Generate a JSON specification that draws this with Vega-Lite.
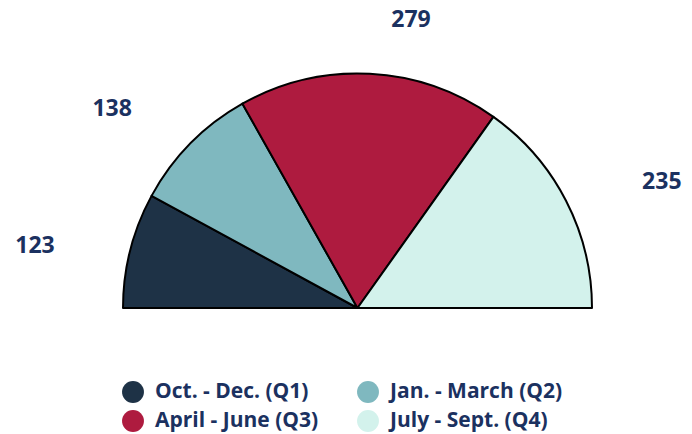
{
  "$schema": "https://vega.github.io/schema/vega-lite/v6.json",
  "width": 692,
  "height": 434,
  "autosize": "none",
  "padding": 0,
  "background": "white",
  "config": {"view": {"stroke": null}},
  "data": {
    "values": [
      {"quarter": "Oct. - Dec. (Q1)", "value": 123, "idx": 1},
      {"quarter": "Jan. - March (Q2)", "value": 138, "idx": 2},
      {"quarter": "April - June (Q3)", "value": 279, "idx": 3},
      {"quarter": "July - Sept. (Q4)", "value": 235, "idx": 4}
    ]
  },
  "encoding": {
    "theta": {"field": "value", "type": "quantitative", "stack": true, "scale": {"range": [-1.5707963, 1.5707963]}},
    "order": {"field": "idx", "type": "quantitative"}
  },
  "layer": [
    {
      "mark": {"type": "arc", "x": 357.5, "y": 308, "outerRadius": 234.5, "stroke": "black", "strokeWidth": 2, "strokeJoin": "round"},
      "encoding": {
        "color": {
          "field": "quarter",
          "type": "nominal",
          "sort": ["Oct. - Dec. (Q1)", "Jan. - March (Q2)", "April - June (Q3)", "July - Sept. (Q4)"],
          "scale": {"domain": ["Oct. - Dec. (Q1)", "Jan. - March (Q2)", "April - June (Q3)", "July - Sept. (Q4)"], "range": ["#1e3246", "#7fb8bf", "#ae1b3f", "#d3f2ec"]},
          "legend": {
            "title": null,
            "orient": "none",
            "legendX": 122,
            "legendY": 381,
            "direction": "horizontal",
            "columns": 2,
            "columnPadding": 38,
            "rowPadding": 7,
            "symbolType": "circle",
            "symbolSize": 480,
            "symbolStrokeWidth": 0,
            "labelFont": "Open Sans",
            "labelFontSize": 21,
            "labelFontWeight": "bold",
            "labelColor": "#1b3160",
            "labelOffset": 11,
            "labelLimit": 300
          }
        }
      }
    },
    {
      "mark": {"type": "text", "x": 357.5, "y": 320, "radius": 300, "dx": -12, "font": "Open Sans", "fontSize": 23, "fontWeight": "bold", "fill": "#1b3160", "align": "right", "baseline": "middle"},
      "encoding": {
        "text": {"condition": {"test": "datum.idx <= 2", "field": "value", "type": "quantitative"}, "value": ""}
      }
    },
    {
      "mark": {"type": "text", "x": 357.5, "y": 320, "radius": 300, "dx": 18, "font": "Open Sans", "fontSize": 23, "fontWeight": "bold", "fill": "#1b3160", "align": "left", "baseline": "middle"},
      "encoding": {
        "text": {"condition": {"test": "datum.idx >= 3", "field": "value", "type": "quantitative"}, "value": ""}
      }
    }
  ]
}
